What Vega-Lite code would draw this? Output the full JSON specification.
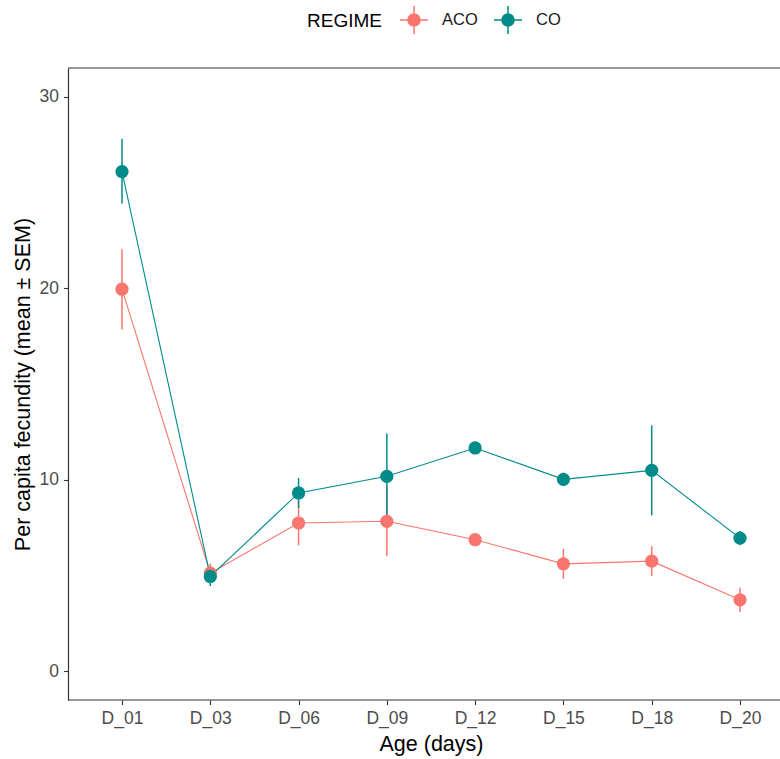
{
  "$schema": "https://vega.github.io/schema/vega-lite/v6.json",
  "autosize": {"type": "none"},
  "padding": {"left": 68, "top": 68, "right": 0, "bottom": 59},
  "width": 712,
  "height": 632,
  "background": "white",
  "config": {
    "view": {"stroke": null, "strokeWidth": 0},
    "font": "Liberation Sans",
    "axis": {"grid": false, "domain": true, "domainColor": "#333333", "domainWidth": 1.2, "tickColor": "#333333", "tickWidth": 1.1, "tickSize": 4.5, "labelColor": "#4D4D4D", "labelFontSize": 17.5, "labelFont": "Liberation Sans", "titleFont": "Liberation Sans", "titleFontSize": 21.5, "titleFontWeight": "normal", "titleColor": "#000000"}
  },
  "data": {
    "values": [
      {"age": "D_01", "regime": "ACO", "mean": 19.95, "lo": 17.85, "hi": 22.04},
      {"age": "D_03", "regime": "ACO", "mean": 5.12, "lo": 4.62, "hi": 5.62},
      {"age": "D_06", "regime": "ACO", "mean": 7.74, "lo": 6.57, "hi": 8.91},
      {"age": "D_09", "regime": "ACO", "mean": 7.83, "lo": 6.01, "hi": 9.65},
      {"age": "D_12", "regime": "ACO", "mean": 6.87, "lo": 6.57, "hi": 7.17},
      {"age": "D_15", "regime": "ACO", "mean": 5.61, "lo": 4.83, "hi": 6.39},
      {"age": "D_18", "regime": "ACO", "mean": 5.75, "lo": 4.97, "hi": 6.53},
      {"age": "D_20", "regime": "ACO", "mean": 3.73, "lo": 3.1, "hi": 4.36},
      {"age": "D_01", "regime": "CO", "mean": 26.09, "lo": 24.43, "hi": 27.81},
      {"age": "D_03", "regime": "CO", "mean": 4.95, "lo": 4.45, "hi": 5.45},
      {"age": "D_06", "regime": "CO", "mean": 9.31, "lo": 8.53, "hi": 10.09},
      {"age": "D_09", "regime": "CO", "mean": 10.18, "lo": 7.95, "hi": 12.41},
      {"age": "D_12", "regime": "CO", "mean": 11.66, "lo": 11.36, "hi": 11.96},
      {"age": "D_15", "regime": "CO", "mean": 10.02, "lo": 9.67, "hi": 10.37},
      {"age": "D_18", "regime": "CO", "mean": 10.49, "lo": 8.14, "hi": 12.84},
      {"age": "D_20", "regime": "CO", "mean": 6.95, "lo": 6.58, "hi": 7.32}
    ]
  },
  "layer": [
    {
      "data": {"values": [{}]},
      "mark": {"type": "rule", "color": "#333333", "strokeWidth": 1.2},
      "encoding": {"y": {"datum": -1.5, "type": "quantitative", "scale": {"domain": [-1.5, 31.5], "nice": false, "zero": false}, "axis": {"values": [0, 10, 20, 30], "title": "Per capita fecundity (mean ± SEM)", "labelPadding": 5, "titlePadding": 5}}}
    },
    {
      "data": {"values": [{}]},
      "mark": {"type": "rule", "color": "#333333", "strokeWidth": 1.2},
      "encoding": {"y": {"datum": 31.5, "type": "quantitative"}}
    },
    {
      "mark": {"type": "rule", "strokeWidth": 1.5},
      "encoding": {
        "x": {"field": "age", "type": "ordinal", "scale": {"type": "point", "range": [54, 672], "padding": 0}, "axis": {"orient": "bottom", "domain": false, "title": "Age (days)", "labelAngle": 0, "labelPadding": 5, "titlePadding": 6}},
        "y": {"field": "lo", "type": "quantitative"},
        "y2": {"field": "hi"},
        "color": {"field": "regime", "type": "nominal", "scale": {"domain": ["ACO", "CO"], "range": ["#F8766D", "#008B8B"]}}
      }
    },
    {
      "mark": {"type": "line", "strokeWidth": 1.1},
      "encoding": {
        "x": {"field": "age", "type": "ordinal"},
        "y": {"field": "mean", "type": "quantitative"},
        "color": {"field": "regime", "type": "nominal"}
      }
    },
    {
      "mark": {"type": "point", "filled": true, "size": 175, "opacity": 1},
      "encoding": {
        "x": {"field": "age", "type": "ordinal"},
        "y": {"field": "mean", "type": "quantitative"},
        "color": {
          "field": "regime", "type": "nominal",
          "legend": {
            "orient": "none", "legendX": 239, "legendY": -63, "direction": "horizontal",
            "title": "REGIME", "titleOrient": "left", "titleFontSize": 19, "titleFontWeight": "normal", "titleColor": "#000000", "titlePadding": 17,
            "labelFontSize": 16.5, "labelColor": "#1A1A1A", "labelOffset": 13, "columnPadding": 13,
            "symbolSize": 784, "symbolStrokeWidth": 1.5,
            "symbolType": "M-1,0L1,0M0,-1L0,1M0.43,0A0.43,0.43,0,1,1,-0.43,0A0.43,0.43,0,1,1,0.43,0Z",
            "encode": {"symbols": {"update": {"fill": {"scale": "color", "field": "value"}, "stroke": {"scale": "color", "field": "value"}, "opacity": {"value": 1}}}}
          }
        }
      }
    }
  ]
}
